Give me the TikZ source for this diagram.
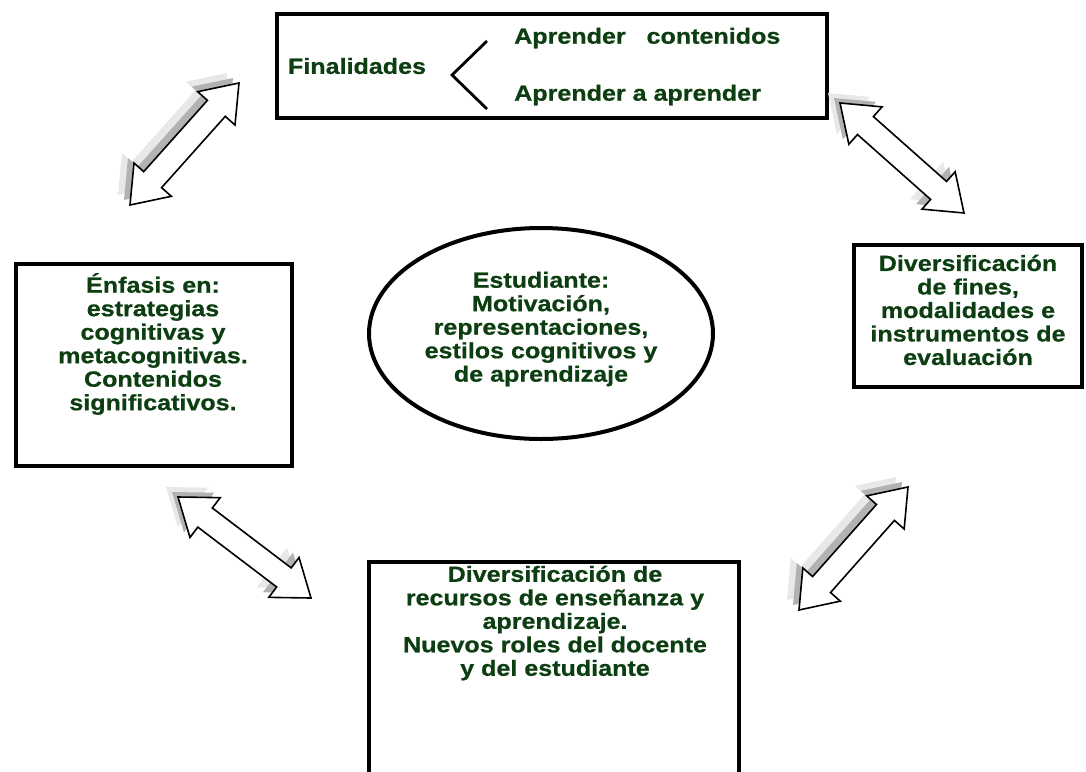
\documentclass[tikz,border=0pt]{standalone}
\usepackage{fontspec}
\setmainfont{Liberation Sans}
\newfontfamily\lblfont[FakeStretch=1.14,FakeBold=0.7]{Liberation Sans}
\usetikzlibrary{calc}
\definecolor{tg}{RGB}{12,62,18}
\def\ahl{34pt}
\def\ahw{25pt}
\def\asw{12pt}
\newcommand{\dblarr}[3]{%
\path[#3] (#1)
 -- ($(#1)!\ahl!(#2)!\ahw!90:(#2)$)
 -- ($(#1)!\ahl!(#2)!\asw!90:(#2)$)
 -- ($(#2)!\ahl!(#1)!\asw!-90:(#1)$)
 -- ($(#2)!\ahl!(#1)!\ahw!-90:(#1)$)
 -- (#2)
 -- ($(#2)!\ahl!(#1)!\ahw!90:(#1)$)
 -- ($(#2)!\ahl!(#1)!\asw!90:(#1)$)
 -- ($(#1)!\ahl!(#2)!\asw!-90:(#2)$)
 -- ($(#1)!\ahl!(#2)!\ahw!-90:(#2)$)
 -- cycle;}
\newcommand{\shadarr}[2]{%
\begin{scope}[transform canvas={xshift=-12pt,yshift=10pt}]\dblarr{#1}{#2}{shA}\end{scope}
\begin{scope}[transform canvas={xshift=-6pt,yshift=5pt}]\dblarr{#1}{#2}{shB}\end{scope}
\dblarr{#1}{#2}{arrw}}
\tikzset{
 box/.style={draw, line width=4pt, inner sep=0pt},
 txt/.style={font=\lblfont\bfseries\fontsize{22}{23.5}\selectfont, text=tg, align=center, inner sep=0pt},
 arrw/.style={fill=white, draw=black, line width=1.6pt, line join=miter},
 shA/.style={fill=gray!18},
 shB/.style={fill=gray!60},
 brk/.style={line width=2.8pt}
}
\begin{document}
\begin{tikzpicture}[x=1pt,y=-1pt]
\useasboundingbox (0,0) rectangle (1086,771);
% boxes
\node[box, minimum width=550pt, minimum height=104pt] (top) at (552,66) {};
\node[box, minimum width=276pt, minimum height=202pt] (left) at (154,365) {};
\node[box, minimum width=228pt, minimum height=142pt] (right) at (968,316) {};
\node[box, minimum width=370pt, minimum height=223pt] (bottom) at (554,673.5) {};
\draw[line width=4pt] (541,333.5) ellipse [x radius=172, y radius=105.5];
\coordinate (ell) at (541,333.5);
% top box content
\node[txt] (fin) at (357,66) {Finalidades};
\node[txt, anchor=west] (c1) at (514,38) {Aprender \ \ contenidos};
\node[txt, anchor=west] (c2) at (514,95) {Aprender a aprender};
\coordinate (b1) at (487,41);
\coordinate (b2) at (452,75);
\coordinate (b3) at (487,109);
\draw[brk] (b1) -- (b2) -- (b3);
% texts
\node[txt] (lt) at (153,344) {Énfasis en:\\estrategias\\cognitivas y\\metacognitivas.\\Contenidos\\significativos.};
\node[txt] (rt) at (968,310) {Diversificación\\de fines,\\modalidades e\\instrumentos de\\evaluación};
\node[txt] (bt) at (555,623) {Diversificación de\\recursos de enseñanza y\\aprendizaje.\\Nuevos roles del docente\\y del estudiante};
\node[txt] (et) at (541,329) {Estudiante:\\Motivación,\\representaciones,\\estilos cognitivos y\\de aprendizaje};
% arrows
\coordinate (a1s) at (130,205); \coordinate (a1e) at (239,83);
\coordinate (a2s) at (840,103); \coordinate (a2e) at (964,213);
\coordinate (a3s) at (178,497); \coordinate (a3e) at (311,598);
\coordinate (a4s) at (908,487); \coordinate (a4e) at (799,610);
\shadarr{a1s}{a1e}
\shadarr{a2s}{a2e}
\shadarr{a3s}{a3e}
\shadarr{a4s}{a4e}
\end{tikzpicture}
\end{document}
